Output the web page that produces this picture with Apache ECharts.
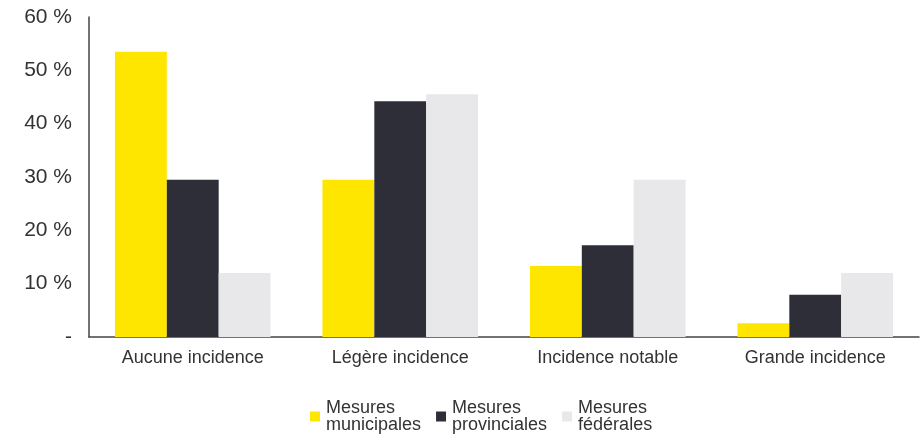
<!DOCTYPE html>
<html>
<head>
<meta charset="utf-8">
<script src="https://cdn.jsdelivr.net/npm/echarts@6/dist/echarts.min.js"></script>
<style>
  html, body { margin: 0; padding: 0; background: #fff; }
  #chart { width: 924px; height: 436px; }
</style>
</head>
<body>
<div id="chart"></div>
<script>
// catégories et valeurs (%)
const categories = ['Aucune incidence', 'Légère incidence', 'Incidence notable', 'Grande incidence']
const seriesNames = ['Mesures\nmunicipales', 'Mesures\nprovinciales', 'Mesures\nfédérales']
const municipales = [53.5, 29.5, 13.3, 2.6]
const provinciales = [29.5, 44.2, 17.2, 7.9]
const federales = [12, 45.5, 29.5, 12]
const colors = ['#ffe600', '#2e2e38', '#e8e8ea']

const myChart = echarts.init(document.getElementById('chart'))
const font = 'Liberation Sans, Arial, sans-serif'
const option = {
    animation: false,
    color: colors,
    grid: {
        left: 89,
        right: 5,
        top: 17,
        bottom: 99,
    },
    legend: {
        bottom: -3,
        left: 305,
        itemWidth: 10,
        itemHeight: 10,
        itemGap: 15,
        icon: 'rect',
        textStyle: {
            fontFamily: font,
            fontSize: 18,
            color: '#333',
            lineHeight: 17,
            padding: [0, 0, 0, 1],
        },
        data: seriesNames,
    },
    xAxis: {
        type: 'category',
        data: categories,
        axisLine: { lineStyle: { color: '#444', width: 1.5 } },
        axisTick: { show: false },
        axisLabel: {
            fontFamily: font,
            fontSize: 18,
            color: '#333',
            margin: 12,
        },
    },
    yAxis: {
        type: 'value',
        min: 0,
        max: 60,
        interval: 10,
        splitLine: { show: false },
        axisLine: { show: true, lineStyle: { color: '#444', width: 1.5 } },
        axisTick: { show: false },
        axisLabel: {
            fontFamily: font,
            fontSize: 21,
            color: '#333',
            margin: 17,
            formatter: function(v) {
                return v === 0 ? '-' : v + ' %'
            },
        },
    },
    series: [
        { name: seriesNames[0], type: 'bar', data: municipales, barGap: '0%', barCategoryGap: '25%' },
        { name: seriesNames[1], type: 'bar', data: provinciales, barGap: '0%', barCategoryGap: '25%' },
        { name: seriesNames[2], type: 'bar', data: federales, barGap: '0%', barCategoryGap: '25%' },
    ],
}
myChart.setOption(option)
</script>
</body>
</html>
